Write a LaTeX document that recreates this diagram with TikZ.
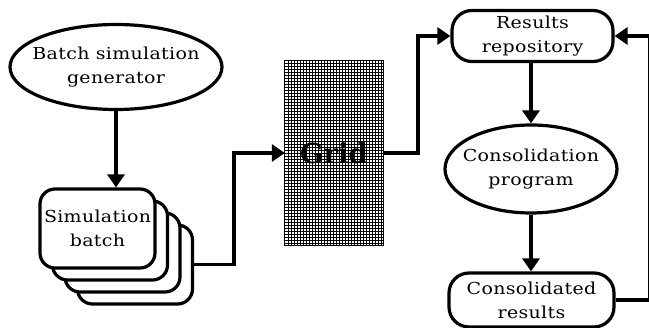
\documentclass[tikz,border=0pt]{standalone}
\usepackage{fontspec}
\setmainfont{DejaVu Serif}
\newfontfamily\labelfont[FakeStretch=1.15,LetterSpace=2]{DejaVu Serif}
\usetikzlibrary{arrows.meta,shapes.geometric,calc}

\tikzset{
  textstyle/.style={align=center,inner sep=0pt,font=\labelfont\fontsize{16.5}{24}\selectfont},
  shapeline/.style={draw=black,line width=3.2pt,fill=white,textstyle},
  oval/.style={shapeline,ellipse,label={[textstyle]center:#1}},
  roundbox/.style={shapeline,rectangle,rounded corners=#1},
  roundbox/.default=15pt,
  arr/.style={line width=3.8pt,-{Triangle[length=13pt,width=17pt]}},
}

\begin{document}
\begin{tikzpicture}[x=1pt,y=-1pt]
  \useasboundingbox (0,0) rectangle (649,328);

  % generator
  \node[oval={Batch simulation\\generator},minimum width=212pt,minimum height=85pt] (gen) at (116,67) {};

  % stack of simulation batches, back to front
  \node[roundbox,minimum width=115pt,minimum height=79pt] (b4) at (135,264.5) {};
  \node[roundbox,minimum width=115pt,minimum height=79pt] (b3) at (122.5,252.5) {};
  \node[roundbox,minimum width=115pt,minimum height=79pt] (b2) at (110,240.5) {};
  \node[roundbox,minimum width=115pt,minimum height=79pt] (batch) at (97.5,228.5)
    {Simulation\\batch};

  % grid block
  \node[minimum width=98pt,minimum height=184pt,inner sep=0pt] (grid) at (334,153) {};
  \begin{scope}
    \clip (grid.south west) rectangle (grid.north east);
    \draw[line width=0.45pt,step=3pt] ($(grid.south west)+(0.5,0)$) grid ($(grid.north east)+(3,-3)$);
  \end{scope}
  \draw[line width=1pt] (grid.south west) rectangle (grid.north east);
  \node[font=\fontsize{27.5}{30}\selectfont\bfseries,inner sep=0pt] (gridlabel) at (grid.center) {Grid};

  % consolidation side
  \node[roundbox=20pt,minimum width=161pt,minimum height=51pt] (repo) at (532.5,36)
    {Results\\repository};
  \node[oval={Consolidation\\program},minimum width=172pt,minimum height=88pt] (cons) at (531,169) {};
  \node[roundbox=20pt,minimum width=165pt,minimum height=54pt] (res) at (531.5,300)
    {Consolidated\\results};

  % connectors
  \draw[arr] (gen.south) -- (gen.south |- batch.north);
  \draw[arr] (b4.east) -- ++(40,0) |- (grid.west);
  \draw[arr] (grid.east) -- ++(35,0) |- (repo.west);
  \draw[arr] (repo.south -| cons.north) -- (cons.north);
  \draw[arr] (cons.south) -- (cons.south |- res.north);
  \draw[arr] (res.east) -- ++(34,0) |- (repo.east);
\end{tikzpicture}
\end{document}
